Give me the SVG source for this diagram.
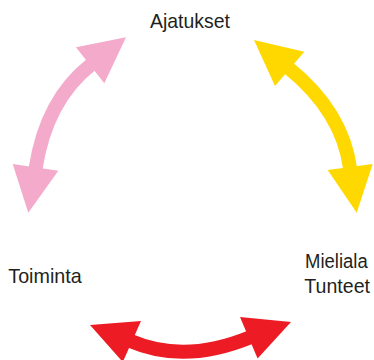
<svg xmlns="http://www.w3.org/2000/svg" width="374" height="360" viewBox="0 0 374 360">
  <style>
    .lbl { font-family: "Liberation Sans", Arial, sans-serif; font-size: 21px; fill: #231F20; }
    .lbl2 { font-family: "Liberation Sans", Arial, sans-serif; font-size: 20px; fill: #231F20; }
    .shaft { fill: none; stroke-width: 14; stroke-linecap: butt; }
    .pink { fill: #F4AACB; }
    .pinks { stroke: #F4AACB; }
    .yellow { fill: #FFD800; }
    .yellows { stroke: #FFD800; }
    .red { fill: #ED1C24; }
    .reds { stroke: #ED1C24; }
  </style>
  <rect width="374" height="360" fill="#FFFFFF"/>
  <g id="connectors">
    <g id="pink-arrow">
      <path class="shaft pinks" d="M35.5,169 C41.8,127.8 58.7,90 91.5,64.3"/>
      <polygon class="pink" points="126,37.3 76,47.3 104.3,83.3"/>
      <polygon class="pink" points="28.3,212.7 12.7,164 58.3,170.7"/>
    </g>
    <g id="yellow-arrow">
      <path class="shaft yellows" d="M350.2,169 C344.6,127.4 320.8,94.1 288.4,67.9"/>
      <polygon class="yellow" points="254,40 304.3,51.7 275,86"/>
      <polygon class="yellow" points="356.7,212.7 327.7,170 372.7,164"/>
    </g>
    <g id="red-arrow">
      <path class="shaft reds" d="M130.5,341 C169.4,357.8 211,353.3 250.3,337.2"/>
      <polygon class="red" points="90,325 141,321 122.8,362"/>
      <polygon class="red" points="291,322 240,317 257.6,358.4"/>
    </g>
  </g>
  <g id="node-ajatukset">
    <text class="lbl" x="150" y="28" textLength="80" lengthAdjust="spacingAndGlyphs">Ajatukset</text>
  </g>
  <g id="node-toiminta">
    <text class="lbl" x="8.3" y="283.3" textLength="73.4" lengthAdjust="spacingAndGlyphs">Toiminta</text>
  </g>
  <g id="node-mieliala">
    <text class="lbl2" x="305" y="268.3" textLength="62.7" lengthAdjust="spacingAndGlyphs">Mieliala</text>
    <text class="lbl2" x="304.3" y="293.3" textLength="65.7" lengthAdjust="spacingAndGlyphs">Tunteet</text>
  </g>
</svg>
